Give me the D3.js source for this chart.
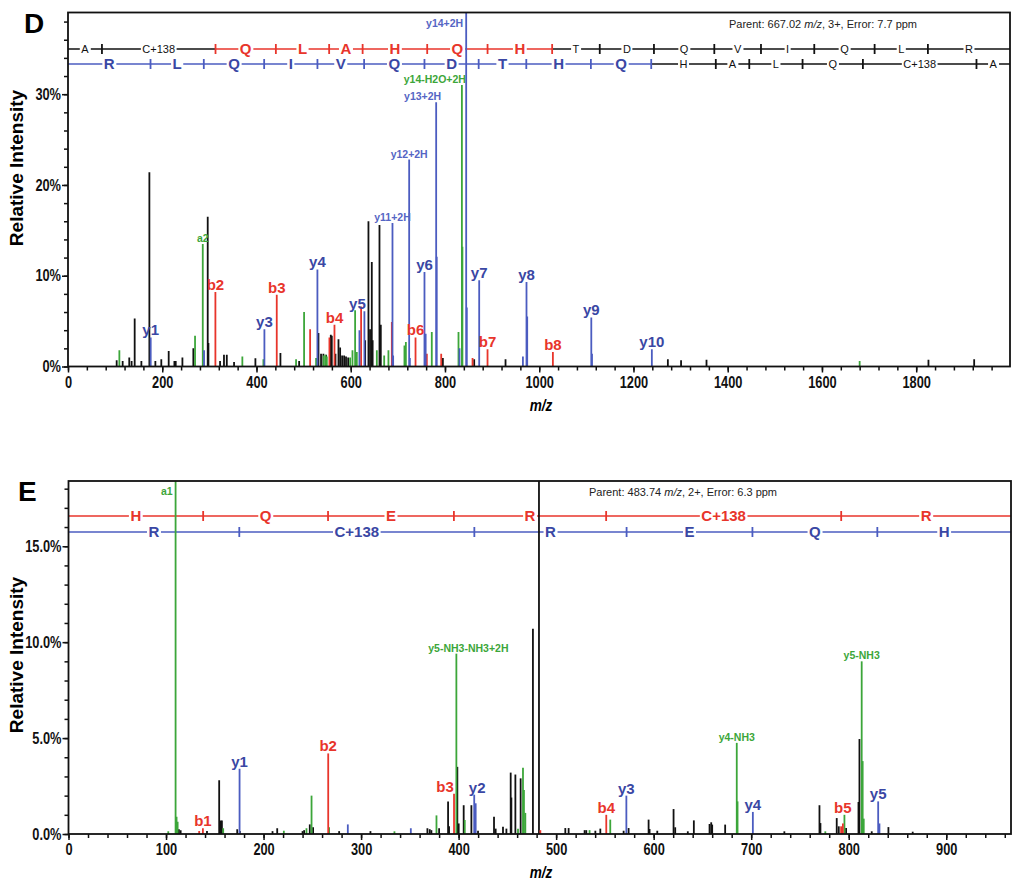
<!DOCTYPE html>
<html>
<head>
<meta charset="utf-8">
<title>MS/MS spectra D and E</title>
<script src="https://cdn.jsdelivr.net/npm/d3@7/dist/d3.min.js"></script>
<style>
  body { margin: 0; background: #fff; }
  svg text { font-family: Arial, "Liberation Sans", sans-serif; }
</style>
</head>
<body>
<svg id="chart" width="1013" height="888"></svg>
<script>
// ---------- panel D : parent 667.02 m/z, 3+ ----------
const dPrecursor = 1999.05;
const dXTicks = [0, 200, 400, 600, 800, 1000, 1200, 1400, 1600, 1800];
const dYTicks = [0, 10, 20, 30];
const dBLadder = [72.04, 313.05, 441.11, 554.19, 625.23, 762.29, 890.35, 1027.41, 1128.46, 1243.48, 1371.54, 1470.61, 1583.69, 1711.75, 1824.84];
const dBResidues = ['A', 'C+138', 'Q', 'L', 'A', 'H', 'Q', 'H', 'T', 'D', 'Q', 'V', 'I', 'Q', 'L', 'R'];
const dBCovered = [0, 0, 1, 1, 1, 1, 1, 1, 0, 0, 0, 0, 0, 0, 0, 0];
const dYLadder = [175.12, 288.20, 416.26, 529.34, 628.41, 756.47, 871.50, 972.55, 1109.61, 1237.67, 1374.72, 1445.76, 1558.84, 1686.90, 1927.91];
const dYResidues = ['R', 'L', 'Q', 'I', 'V', 'Q', 'D', 'T', 'H', 'Q', 'H', 'A', 'L', 'Q', 'C+138', 'A'];
const dYCovered = [1, 1, 1, 1, 1, 1, 1, 1, 1, 1, 0, 0, 0, 0, 0, 0];
// [m/z, relative intensity %, label]
const dBlack = [[103.3,0.7],[116,0.6],[130,1.0],[135,0.6],[141.5,5.3],[155.7,0.6],[172.7,21.4],[185.4,0.6],[198,0.8],[213.7,1.7],[225.8,0.6],[228.6,0.6],[242.8,1.0],[266,2.0],[296.5,16.5],[298,2.6],[322.7,0.6],[331,1.3],[337,1.3],[352.4,0.5],[397.7,0.9],[450.8,1.5],[490.5,0.6],[531.5,3.7],[537,1.4],[542,1.4],[547.8,1.3],[557.7,3.5],[559.8,3.4],[567.6,1.4],[574,3.0],[577.5,2.1],[581.7,1.2],[586,1.2],[590,1.1],[594.5,1.0],[630.6,2.9],[637.6,16.0],[641,4.1],[644.7,11.5],[646.5,2.9],[661,15.6],[663.8,4.6],[795.5,0.95],[862,0.8],[928.5,0.8],[1273,0.8],[1301,0.7],[1355,0.75],[1826,0.75],[1923,0.8]];
const dRed = [[312.8,8.2,'b2'],[443,7.9,'b3'],[513.8,4.1],[554.8,3.2],[565.5,4.6,'b4'],[622,6.6],[687.2,4.9],[737.5,3.2,'b6'],[761.5,1.4],[792,1.4],[858.5,0.95],[890.3,1.9,'b7'],[1029,1.6,'b8']];
const dBlue = [[175.5,3.2,'y1'],[288.7,1.8],[416.8,4.1,'y3'],[529.3,10.7,'y4'],[618.5,4.0],[629,6.1,'y5'],[688.6,15.8,'y11+2H'],[690,1.2],[724,22.8,'y12+2H'],[725.5,0.95],[756.5,10.4,'y6'],[759,3.6],[781.3,29.1,'y13+2H'],[782.5,12.1],[830.8,2.0],[845,45,'y14+2H'],[846.3,6.5],[872.6,9.5,'y7'],[965.4,1.1],[973,9.3,'y8'],[974.5,5.5],[1110.5,5.4,'y9'],[1112,1.4],[1239,1.9,'y10']];
const dGreen = [[109,1.8],[269.6,3.4],[286,13.5,'a2'],[370,1.1],[414.7,0.8],[484,0.8],[501,6.0],[526.5,0.95],[542.5,1.2],[546.4,1.3],[549.2,1.1],[598.7,1.0],[603.7,1.8],[609.3,6.2],[612.9,1.6],[655.4,1.8],[671,1.2],[680,1.8],[714,2.3],[717,2.7],[772,3.8],[828.7,3.8],[835.9,31,'y14-H2O+2H'],[837,13.2],[1680,0.6]];

// ---------- panel E : parent 483.74 m/z, 2+ ----------
const ePrecursor = 966.39;
const eXTicks = [0, 100, 200, 300, 400, 500, 600, 700, 800, 900];
const eYTicks = [0, 5, 10, 15];
const eBLadder = [138.07, 266.12, 395.17, 551.27, 792.28];
const eBResidues = ['H', 'Q', 'E', 'R', 'C+138', 'R'];
const eBCovered = [1, 1, 1, 1, 1, 1];
const eYLadder = [175.12, 416.13, 572.23, 701.27, 829.33];
const eYResidues = ['R', 'C+138', 'R', 'E', 'Q', 'H'];
const eYCovered = [1, 1, 1, 1, 1, 1];
const eBlack = [[113.2,0.25],[115,0.2],[142,0.15],[154.5,2.8],[155.9,0.7],[157.3,0.7],[173,0.25],[175.7,0.15],[209.2,0.15],[214,0.3],[240,0.15],[241.6,0.2],[247.4,0.5],[250.8,0.35],[277.5,0.15],[309.6,0.15],[368,0.3],[370.4,0.25],[372.1,0.2],[380,0.3],[389.2,1.7],[390.2,0.4],[398.7,3.5],[400.1,0.55],[405.2,1.5],[413.1,1.5],[419.9,0.17],[436.3,0.9],[438,0.28],[445.5,0.38],[449,0.28],[453.4,3.2],[454.1,1.9],[458.2,3.1],[463.6,2.9],[476.2,10.7],[482.4,30],[509.4,0.31],[512.8,0.31],[529.2,0.2],[530.9,0.2],[540.2,0.17],[545.3,0.28],[569.2,0.17],[574.3,0.31],[594.8,0.75],[595.8,0.26],[603.7,0.17],[620.4,1.3],[622.1,0.35],[635,0.14],[641.2,0.71],[657.3,0.52],[659,0.61],[660,0.49],[673.3,0.49],[734,0.14],[770,1.5],[771,0.57],[787.7,0.83],[789.8,0.4],[797.3,0.31],[810,1.67],[811,4.95],[823.6,0.14],[840.7,0.36],[865.6,0.12]];
const eRed = [[134,0.15],[137.8,0.3,'b1'],[266.3,4.2,'b2'],[395.3,2.1,'b3'],[483.8,0.2],[551.4,1.0,'b4'],[792.2,0.4],[794,0.55,'b5']];
const eBlue = [[175.4,3.4,'y1'],[286.4,0.5],[351,0.3],[416,2.05,'y2'],[417.5,1.6],[572,2.0,'y3'],[701.7,1.15,'y4'],[830.2,1.7,'y5'],[831.5,0.55]];
const eGreen = [[102.3,0.14],[109.8,25,'a1'],[110.8,0.9],[111.9,0.64],[158.6,0.3],[220.8,0.17],[244,0.3],[249.2,2.0],[267.2,0.35],[334.2,0.14],[377.3,0.97],[397.7,9.4,'y5-NH3-NH3+2H'],[406.3,0.73],[460.9,0.28],[466,3.45],[467,2.3],[468.4,1.1],[534.3,0.2],[555.5,0.75],[685.2,4.75,'y4-NH3'],[686,1.7],[776,0.14],[795.6,1.0],[813.3,9.0,'y5-NH3'],[814.3,3.8],[815.4,0.8]];

const colors = {black: '#111111', red: '#e8352b', blue: '#4b5cc0', green: '#3ca63a'};
const textColors = {black: '#111111', red: '#e8352b', blue: '#3a47a4', green: '#3ca63a'};

const svg = d3.select('#chart');
svg.append('rect').attr('width', 1013).attr('height', 888).attr('fill', '#fff');

// squeeze bold Arial to look like the narrow face used in the figure
function narrow(sel, k){
  sel.each(function(){
    const w = this.getComputedTextLength();
    if (w > 0) d3.select(this).attr('textLength', w * k).attr('lengthAdjust', 'spacingAndGlyphs');
  });
}

function drawLadder(g, x, l){
  const bounds = [0, ...l.ions, l.end];
  l.residues.forEach((r, i) => {
    g.append('line')
      .attr('x1', x(bounds[i])).attr('x2', x(bounds[i+1]))
      .attr('y1', l.y).attr('y2', l.y)
      .attr('stroke', l.covered[i] ? colors[l.color] : colors.black)
      .attr('stroke-width', 1.5);
  });
  l.ions.forEach((m, k) => {
    const c = l.covered[k] || l.covered[k+1];
    g.append('line')
      .attr('x1', x(m)).attr('x2', x(m))
      .attr('y1', l.y - 5).attr('y2', l.y + 5)
      .attr('stroke', c ? colors[l.color] : colors.black)
      .attr('stroke-width', 1.8);
  });
  l.residues.forEach((r, i) => {
    const c = l.covered[i];
    const bg = g.append('rect').attr('fill', '#fff');
    const t = g.append('text')
      .attr('x', x((bounds[i] + bounds[i+1]) / 2)).attr('y', l.y).attr('dy', '0.36em')
      .attr('text-anchor', 'middle')
      .attr('font-size', c ? 15 : 11).attr('font-weight', c ? 'bold' : 'normal')
      .attr('fill', c ? textColors[l.color] : colors.black)
      .text(r);
    const bb = t.node().getBBox();
    bg.attr('x', bb.x - 1.5).attr('y', l.y - 3).attr('width', bb.width + 3).attr('height', 6);
  });
}

function drawPanel(p){
  const g = svg.append('g');
  const x = d3.scaleLinear().domain([0, p.mzMax]).range([p.left, p.right]);
  const y = d3.scaleLinear().domain([0, p.yMax]).range([p.bottom, p.top]);

  svg.append('clipPath').attr('id', 'clip' + p.letter).append('rect')
    .attr('x', p.left).attr('y', p.top)
    .attr('width', p.right - p.left).attr('height', p.bottom - p.top);

  g.append('text').attr('x', p.letterX).attr('y', p.top + 20)
    .attr('font-size', 28).attr('font-weight', 'bold').text(p.letter);

  p.ladders.forEach(l => drawLadder(g, x, l));

  g.append('text').attr('x', p.parentX).attr('y', p.top + 15).attr('font-size', 11).attr('fill', '#222')
    .call(t => {
      t.append('tspan').text(p.parent[0]);
      t.append('tspan').attr('font-style', 'italic').text('m/z');
      t.append('tspan').text(p.parent[1]);
    });

  // peaks
  const pg = g.append('g').attr('clip-path', `url(#clip${p.letter})`);
  const all = [];
  ['black', 'green', 'red', 'blue'].forEach(s => {
    p.peaks[s].forEach(d => all.push({s, mz: d[0], v: d[1], label: d[2]}));
    pg.selectAll(null).data(p.peaks[s]).enter().append('line')
      .attr('x1', d => x(d[0])).attr('x2', d => x(d[0]))
      .attr('y1', y(0)).attr('y2', d => y(d[1]))
      .attr('stroke', colors[s]).attr('stroke-width', 1.8);
  });

  // ion labels
  all.filter(d => d.label).forEach(d => {
    const small = d.label.length > 3 || d.label[0] === 'a';
    const top = d3.max(all.filter(o => Math.abs(o.mz - d.mz) < 2), o => o.v);
    let tx = x(d.mz), ty = y(top) - 2, anchor = 'middle';
    if (top > p.yMax) { anchor = 'end'; tx -= 3; ty = p.top + (small ? 14 : 16); }
    else if (p.labelAnchor[d.label]) { anchor = p.labelAnchor[d.label][0]; tx += p.labelAnchor[d.label][1]; }
    g.append('text').attr('x', tx).attr('y', ty).attr('text-anchor', anchor)
      .attr('font-size', small ? 10.5 : 15).attr('font-weight', 'bold')
      .attr('fill', small && d.s === 'blue' ? '#5565c4' : textColors[d.s])
      .text(d.label);
  });

  // axes
  const axStyle = sel => {
    sel.select('.domain').remove();
    sel.selectAll('line').attr('stroke', '#111').attr('stroke-width', 1.5);
    sel.selectAll('text').attr('font-weight', 'bold').attr('font-size', 16).attr('fill', '#111')
      .call(narrow, 0.8);
  };
  g.append('g').attr('transform', `translate(0,${p.bottom})`)
    .call(d3.axisBottom(x).tickValues(p.xMinor).tickSize(4).tickFormat('')).call(axStyle);
  g.append('g').attr('transform', `translate(0,${p.bottom})`)
    .call(d3.axisBottom(x).tickValues(p.xTicks).tickSize(6).tickPadding(4).tickFormat(d3.format('d'))).call(axStyle);
  g.append('g').attr('transform', `translate(${p.left},0)`)
    .call(d3.axisLeft(y).tickValues(p.yMinor).tickSize(4).tickFormat('')).call(axStyle);
  g.append('g').attr('transform', `translate(${p.left},0)`)
    .call(d3.axisLeft(y).tickValues(p.yTicks).tickSize(6).tickPadding(1).tickFormat(p.yFmt)).call(axStyle);

  g.append('rect').attr('x', p.left).attr('y', p.top)
    .attr('width', p.right - p.left).attr('height', p.bottom - p.top)
    .attr('fill', 'none').attr('stroke', '#111').attr('stroke-width', 1.8);

  g.append('text').attr('transform', `translate(${p.titleX},${p.titleY}) rotate(-90)`)
    .attr('text-anchor', 'middle').attr('font-size', 19).attr('font-weight', 'bold')
    .text('Relative Intensity');
  g.append('text').attr('x', 541).attr('y', p.bottom + 44).attr('text-anchor', 'middle')
    .attr('font-size', 17).attr('font-weight', 'bold').attr('font-style', 'italic')
    .text('m/z').call(narrow, 0.8);
}

drawPanel({
  letter: 'D', letterX: 24, left: 68, right: 1010, top: 12.5, bottom: 366.5,
  mzMax: dPrecursor, yMax: 39,
  xTicks: dXTicks, xMinor: d3.range(0, 2000, 40),
  yTicks: dYTicks, yMinor: d3.range(0, 39, 2), yFmt: d => d + '%',
  parentX: 729, parent: ['Parent: 667.02 ', ', 3+, Error: 7.7 ppm'],
  titleX: 23, titleY: 168,
  labelAnchor: {'y14-H2O+2H': ['end', 4], 'y13+2H': ['end', 5], 'y5': ['middle', -7]},
  ladders: [
    {y: 49, ions: dBLadder, residues: dBResidues, covered: dBCovered, color: 'red', end: dPrecursor},
    {y: 64, ions: dYLadder, residues: dYResidues, covered: dYCovered, color: 'blue', end: dPrecursor}
  ],
  peaks: {black: dBlack, red: dRed, blue: dBlue, green: dGreen}
});

drawPanel({
  letter: 'E', letterX: 18, left: 68.5, right: 1011, top: 481, bottom: 834,
  mzMax: ePrecursor, yMax: 18.4,
  xTicks: eXTicks, xMinor: d3.range(0, 966, 20),
  yTicks: eYTicks, yMinor: d3.range(0, 18.4, 1), yFmt: d => d.toFixed(1) + '%',
  parentX: 589, parent: ['Parent: 483.74 ', ', 2+, Error: 6.3 ppm'],
  titleX: 23, titleY: 655,
  labelAnchor: {'y5-NH3-NH3+2H': ['middle', 12], 'b3': ['middle', -9], 'y2': ['middle', 3]},
  ladders: [
    {y: 516, ions: eBLadder, residues: eBResidues, covered: eBCovered, color: 'red', end: ePrecursor},
    {y: 532, ions: eYLadder, residues: eYResidues, covered: eYCovered, color: 'blue', end: ePrecursor}
  ],
  peaks: {black: eBlack, red: eRed, blue: eBlue, green: eGreen}
});
</script>
</body>
</html>
